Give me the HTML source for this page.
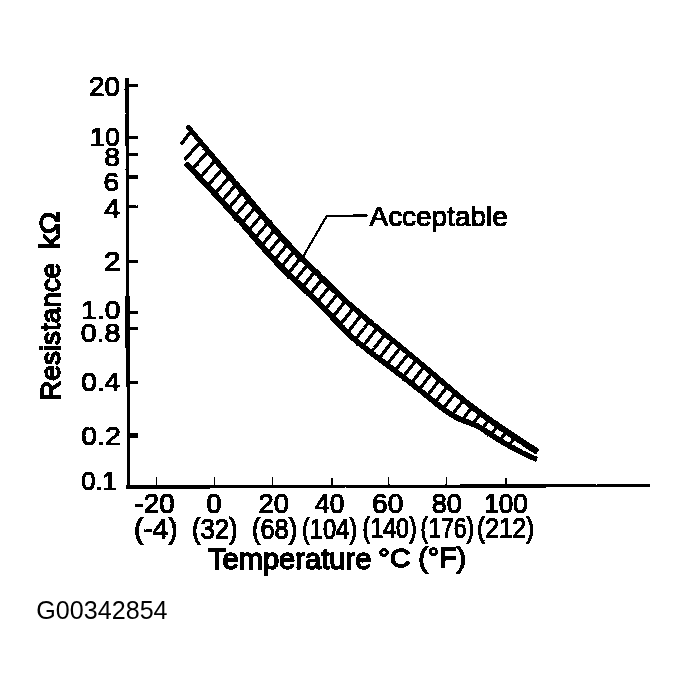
<!DOCTYPE html>
<html><head><meta charset="utf-8"><title>Resistance vs Temperature</title>
<style>
html,body{margin:0;padding:0;background:#fff;}
svg{display:block;}
text{font-family:"Liberation Sans",sans-serif;fill:#000;font-size:100px;}
text.b{stroke:#000;stroke-width:4.2px;}
text.bb{stroke:#000;stroke-width:5.2px;}
</style></head><body>
<svg width="688" height="695" viewBox="0 0 688 695">
<rect width="688" height="695" fill="#fff"/>
<defs><filter id="scan" x="0" y="0" width="688" height="695" filterUnits="userSpaceOnUse" color-interpolation-filters="sRGB">
<feTurbulence type="fractalNoise" baseFrequency="0.45" numOctaves="2" seed="7" result="n"/>
<feDisplacementMap in="SourceGraphic" in2="n" scale="1.6" xChannelSelector="R" yChannelSelector="G" result="d"/>
<feComponentTransfer in="d"><feFuncA type="discrete" tableValues="0 1"/></feComponentTransfer>
</filter></defs>
<g filter="url(#scan)">
<g stroke="#000" fill="none">
<path d="M126.9,78 L128.6,488.6" stroke-width="3.3"/>
<path d="M127.5,296 L127.7,348" stroke-width="4.9"/>
<path d="M126.1,487 L650.5,485.5" stroke-width="3.3"/>
<path d="M126.9,85.7 H138.4 M127.1,137.6 H138.4 M127.2,154.4 H138.4 M127.3,177 H138.4 M127.4,206.9 H138.4 M127.7,261.5 H138.4 M127.9,312.2 H138.4 M127.9,328.6 H138.4 M128.2,382.2 H138.4" stroke-width="2.8"/>
<path d="M128,435.6 H138.4" stroke-width="4.4"/>
<path d="M156.4,477.3 V486.9 M214.6,477.3 V486.7 M272.8,477.3 V486.6 M332,477.3 V486.4 M388.75,477.3 V486.2 M446.4,477.3 V486.1 M506,477.3 V485.9" stroke-width="1.3"/>
<path d="M189.0,124.2 L190.4,126.0 L192.4,128.3 L194.7,131.0 L197.3,134.1 L199.9,137.3 L202.6,140.5 L205.2,143.5 L207.5,146.3 L209.6,148.8 L211.7,151.2 L213.8,153.6 L215.8,156.0 L217.8,158.3 L219.7,160.5 L221.5,162.6 L223.3,164.7 L225.0,166.6 L226.6,168.4 L228.1,170.2 L229.5,171.8 L231.0,173.4 L232.4,175.1 L233.8,176.8 L235.3,178.5 L236.9,180.3 L238.4,182.1 L240.0,183.9 L241.5,185.8 L243.1,187.6 L244.7,189.5 L246.3,191.3 L247.8,193.2 L249.4,195.0 L250.8,196.8 L252.3,198.6 L253.8,200.3 L255.3,202.2 L256.9,204.0 L258.5,206.0 L260.3,208.2 L262.3,210.5 L264.3,212.9 L266.5,215.4 L268.7,218.0 L270.9,220.6 L273.2,223.3 L275.6,226.0 L277.9,228.6 L280.3,231.3 L282.9,234.2 L285.6,237.1 L288.3,240.0 L290.9,242.8 L293.4,245.5 L295.7,247.9 L297.6,249.9 L299.2,251.6 L300.5,253.0 L301.6,254.1 L302.6,255.0 L303.4,255.8 L304.2,256.6 L305.0,257.4 L305.9,258.2 L306.8,259.1 L307.4,259.7 L308.1,260.3 L308.7,260.9 L309.4,261.6 L310.2,262.4 L311.2,263.3 L312.4,264.5 L313.9,266.0 L315.6,267.7 L317.6,269.6 L319.6,271.6 L321.7,273.7 L323.7,275.7 L325.7,277.6 L327.5,279.4 L329.2,281.1 L330.9,282.7 L332.4,284.3 L334.0,285.8 L335.5,287.3 L337.0,288.7 L338.4,290.2 L340.0,291.6 L341.5,293.1 L343.0,294.5 L344.4,295.9 L345.9,297.2 L347.4,298.6 L348.9,300.0 L350.5,301.4 L352.1,302.9 L353.9,304.4 L355.6,306.0 L357.5,307.6 L359.4,309.2 L361.3,310.8 L363.2,312.5 L365.1,314.1 L367.0,315.7 L368.9,317.3 L370.9,318.9 L372.8,320.5 L374.8,322.1 L376.7,323.7 L378.7,325.3 L380.6,326.9 L382.5,328.5 L384.5,330.1 L386.5,331.8 L388.5,333.4 L390.5,335.1 L392.5,336.7 L394.3,338.2 L396.1,339.6 L397.7,341.0 L399.1,342.1 L400.3,343.1 L401.4,343.9 L402.3,344.7 L403.3,345.5 L404.4,346.4 L405.6,347.4 L407.0,348.6 L408.7,350.0 L410.5,351.5 L412.4,353.1 L414.4,354.8 L416.5,356.5 L418.5,358.2 L420.6,359.9 L422.5,361.5 L424.5,363.2 L426.5,364.9 L428.5,366.6 L430.5,368.3 L432.5,369.9 L434.4,371.5 L436.1,373.0 L437.7,374.3 L439.1,375.5 L440.3,376.6 L441.4,377.5 L442.4,378.3 L443.4,379.1 L444.4,380.0 L445.6,381.1 L447.1,382.3 L448.7,383.7 L450.6,385.3 L452.6,387.0 L454.6,388.8 L456.7,390.6 L458.8,392.3 L460.8,393.9 L462.6,395.4 L464.3,396.8 L465.9,398.1 L467.4,399.4 L468.9,400.6 L470.4,401.8 L471.8,402.9 L473.3,404.0 L474.8,405.2 L476.3,406.3 L477.8,407.5 L479.2,408.5 L480.7,409.6 L482.2,410.7 L483.7,411.8 L485.3,413.0 L487.0,414.2 L488.7,415.4 L490.6,416.7 L492.5,418.1 L494.4,419.4 L496.4,420.8 L498.4,422.1 L500.3,423.5 L502.3,424.8 L504.2,426.1 L506.1,427.4 L508.0,428.7 L509.9,430.0 L511.8,431.3 L513.7,432.6 L515.7,433.8 L517.6,435.1 L519.5,436.4 L521.6,437.7 L523.6,439.0 L525.7,440.4 L527.7,441.7 L529.6,442.9 L531.3,444.0 L532.8,444.9 L534.1,445.7 L535.2,446.4 L536.2,447.1 L537.1,447.6 L537.8,448.1 L538.4,448.5 L539.0,448.8 L539.5,449.1 L535.9,454.7 L535.5,454.4 L534.9,454.1 L534.3,453.7 L533.5,453.2 L532.7,452.6 L531.7,452.0 L530.5,451.2 L529.2,450.4 L527.7,449.4 L526.0,448.3 L524.2,447.1 L522.2,445.8 L520.1,444.4 L518.0,443.1 L516.0,441.7 L514.0,440.4 L512.1,439.1 L510.2,437.8 L508.3,436.5 L506.4,435.2 L504.5,433.9 L502.6,432.6 L500.6,431.3 L498.7,429.9 L496.8,428.6 L494.8,427.2 L492.9,425.8 L490.9,424.4 L488.9,423.0 L487.0,421.7 L485.2,420.4 L483.4,419.1 L481.8,417.8 L480.2,416.7 L478.6,415.5 L477.1,414.4 L475.6,413.3 L474.2,412.2 L472.7,411.0 L471.2,409.8 L469.7,408.6 L468.2,407.4 L466.8,406.2 L465.3,405.0 L463.8,403.8 L462.3,402.5 L460.7,401.2 L459.0,399.8 L457.2,398.2 L455.2,396.5 L453.2,394.7 L451.1,392.9 L449.0,391.1 L447.1,389.4 L445.2,387.8 L443.5,386.4 L442.1,385.2 L440.9,384.1 L439.9,383.2 L438.9,382.4 L437.9,381.6 L436.8,380.7 L435.7,379.7 L434.3,378.5 L432.6,377.1 L430.9,375.6 L429.0,374.0 L427.0,372.4 L425.0,370.7 L423.0,369.0 L421.0,367.3 L419.1,365.7 L417.1,364.0 L415.1,362.3 L413.0,360.6 L411.0,358.9 L408.9,357.2 L407.0,355.6 L405.2,354.1 L403.6,352.8 L402.2,351.6 L401.0,350.6 L399.9,349.7 L398.9,348.9 L397.9,348.1 L396.9,347.3 L395.7,346.3 L394.3,345.1 L392.7,343.8 L390.9,342.4 L389.0,340.8 L387.1,339.2 L385.1,337.6 L383.0,335.9 L381.0,334.3 L379.1,332.7 L377.2,331.1 L375.2,329.5 L373.3,327.9 L371.3,326.3 L369.4,324.7 L367.4,323.1 L365.5,321.4 L363.6,319.8 L361.6,318.2 L359.7,316.6 L357.8,315.0 L355.8,313.4 L353.9,311.7 L352.1,310.2 L350.2,308.6 L348.5,307.1 L346.8,305.6 L345.2,304.2 L343.6,302.8 L342.1,301.4 L340.6,300.0 L339.1,298.6 L337.6,297.2 L336.0,295.8 L334.5,294.3 L333.0,292.9 L331.4,291.4 L329.9,289.9 L328.4,288.4 L326.8,286.9 L325.2,285.3 L323.5,283.6 L321.6,281.8 L319.6,279.9 L317.6,277.9 L315.5,275.8 L313.4,273.8 L311.5,272.0 L309.7,270.3 L308.2,268.8 L307.0,267.6 L306.0,266.7 L305.2,266.0 L304.5,265.3 L303.9,264.7 L303.3,264.1 L302.5,263.4 L301.7,262.6 L300.8,261.7 L300.0,261.0 L299.2,260.2 L298.3,259.4 L297.3,258.4 L296.2,257.2 L294.8,255.8 L293.2,254.1 L291.2,252.1 L289.0,249.7 L286.5,247.0 L283.8,244.2 L281.1,241.2 L278.4,238.3 L275.8,235.4 L273.3,232.7 L271.0,230.0 L268.6,227.3 L266.3,224.6 L264.0,222.0 L261.8,219.3 L259.7,216.8 L257.6,214.4 L255.7,212.1 L253.9,210.0 L252.2,208.0 L250.6,206.1 L249.1,204.2 L247.6,202.5 L246.2,200.7 L244.7,198.9 L243.2,197.1 L241.6,195.3 L240.0,193.4 L238.5,191.6 L236.9,189.7 L235.3,187.9 L233.8,186.1 L232.2,184.3 L230.7,182.5 L229.2,180.7 L227.8,179.0 L226.4,177.4 L225.0,175.7 L223.5,174.0 L222.1,172.3 L220.5,170.4 L218.9,168.4 L217.2,166.3 L215.4,164.1 L213.5,161.9 L211.6,159.5 L209.6,157.1 L207.6,154.7 L205.6,152.1 L203.5,149.6 L201.2,146.8 L198.7,143.7 L196.1,140.5 L193.5,137.2 L191.0,134.1 L188.7,131.3 L186.8,128.9 L185.4,127.2Z" fill="#000" stroke="none"/>
<path d="M187.6,161.2 L188.8,162.4 L190.3,164.0 L192.1,165.8 L194.1,167.9 L196.3,170.1 L198.4,172.3 L200.5,174.5 L202.5,176.5 L204.3,178.4 L206.1,180.4 L208.0,182.3 L209.8,184.3 L211.6,186.2 L213.4,188.2 L215.3,190.2 L217.1,192.1 L219.0,194.2 L220.9,196.2 L222.8,198.2 L224.8,200.3 L226.7,202.3 L228.6,204.4 L230.6,206.5 L232.5,208.5 L234.4,210.7 L236.5,212.9 L238.5,215.1 L240.5,217.3 L242.5,219.5 L244.4,221.5 L246.1,223.5 L247.8,225.3 L249.2,227.0 L250.6,228.5 L251.8,229.9 L252.9,231.2 L253.9,232.4 L255.0,233.7 L256.1,234.9 L257.3,236.3 L258.5,237.7 L259.8,239.2 L261.1,240.6 L262.4,242.1 L263.6,243.6 L264.9,245.1 L266.2,246.5 L267.5,247.9 L268.7,249.3 L270.0,250.8 L271.2,252.2 L272.5,253.5 L273.8,254.9 L275.0,256.3 L276.3,257.6 L277.5,259.0 L278.8,260.3 L280.0,261.6 L281.3,262.9 L282.6,264.2 L283.9,265.5 L285.1,266.8 L286.4,268.0 L287.6,269.3 L288.8,270.4 L290.0,271.6 L291.2,272.7 L292.3,273.8 L293.5,274.9 L294.7,276.0 L295.9,277.1 L297.1,278.2 L298.3,279.4 L299.6,280.6 L300.8,281.8 L302.1,283.0 L303.4,284.2 L304.7,285.4 L306.0,286.6 L307.3,287.9 L308.6,289.1 L309.8,290.3 L311.1,291.5 L312.3,292.7 L313.6,294.0 L314.9,295.2 L316.1,296.4 L317.4,297.7 L318.7,298.9 L320.0,300.2 L321.3,301.5 L322.6,302.8 L323.9,304.1 L325.1,305.4 L326.4,306.7 L327.6,307.9 L328.9,309.2 L330.1,310.4 L331.2,311.6 L332.4,312.9 L333.6,314.1 L334.7,315.3 L335.9,316.6 L337.1,317.8 L338.4,319.1 L339.6,320.5 L340.9,321.8 L342.2,323.2 L343.5,324.5 L344.7,325.9 L346.0,327.2 L347.2,328.4 L348.5,329.7 L349.7,330.9 L351.0,332.1 L352.2,333.3 L353.5,334.5 L354.7,335.7 L355.9,336.8 L357.2,337.9 L358.4,339.0 L359.7,340.1 L360.9,341.1 L362.2,342.2 L363.5,343.2 L364.7,344.2 L366.0,345.2 L367.2,346.2 L368.4,347.1 L369.6,348.1 L370.8,348.9 L371.9,349.8 L373.1,350.7 L374.3,351.6 L375.5,352.5 L376.7,353.4 L377.9,354.4 L379.2,355.4 L380.5,356.3 L381.8,357.3 L383.0,358.3 L384.3,359.3 L385.6,360.2 L386.9,361.2 L388.2,362.2 L389.4,363.1 L390.7,364.0 L391.9,365.0 L393.2,365.9 L394.5,366.9 L395.7,367.8 L397.0,368.8 L398.3,369.8 L399.6,370.8 L400.8,371.7 L402.1,372.7 L403.4,373.7 L404.7,374.7 L406.0,375.7 L407.2,376.7 L408.5,377.7 L409.7,378.7 L411.0,379.6 L412.3,380.6 L413.5,381.6 L414.7,382.6 L415.9,383.6 L417.1,384.5 L418.3,385.4 L419.4,386.3 L420.5,387.2 L421.6,388.1 L422.7,389.0 L423.9,389.9 L425.0,390.8 L426.3,391.8 L427.5,392.8 L428.9,393.9 L430.2,395.0 L431.6,396.1 L433.0,397.2 L434.4,398.3 L435.7,399.4 L437.0,400.5 L438.4,401.5 L439.6,402.6 L440.9,403.6 L442.2,404.6 L443.4,405.6 L444.7,406.5 L445.9,407.5 L447.1,408.3 L448.4,409.2 L449.6,410.1 L450.9,410.9 L452.1,411.7 L453.3,412.5 L454.6,413.3 L455.8,414.0 L457.0,414.6 L458.2,415.3 L459.5,415.8 L460.8,416.4 L462.1,417.0 L463.3,417.5 L464.6,418.0 L465.8,418.5 L466.9,418.9 L467.9,419.3 L468.8,419.6 L469.7,419.9 L470.5,420.2 L471.4,420.5 L472.3,420.8 L473.2,421.2 L474.1,421.5 L475.0,421.9 L475.9,422.3 L476.8,422.7 L477.6,423.2 L478.6,423.6 L479.5,424.1 L480.5,424.7 L481.6,425.3 L482.8,426.0 L484.0,426.8 L485.3,427.6 L486.6,428.5 L487.9,429.4 L489.2,430.3 L490.5,431.1 L491.8,432.0 L493.1,432.8 L494.3,433.6 L495.6,434.4 L496.9,435.3 L498.1,436.1 L499.4,436.9 L500.7,437.7 L501.9,438.5 L503.2,439.2 L504.4,440.0 L505.7,440.7 L507.0,441.5 L508.2,442.2 L509.5,442.9 L510.7,443.7 L512.0,444.4 L513.3,445.1 L514.5,445.8 L515.8,446.5 L517.1,447.1 L518.3,447.8 L519.6,448.5 L520.8,449.1 L522.1,449.8 L523.4,450.4 L524.7,451.0 L526.0,451.7 L527.3,452.3 L528.6,452.9 L529.8,453.5 L531.0,454.0 L532.1,454.5 L533.0,454.9 L534.0,455.3 L534.8,455.7 L535.7,456.0 L536.4,456.3 L537.1,456.6 L537.6,456.8 L538.1,457.0 L536.1,461.8 L535.7,461.6 L535.1,461.4 L534.5,461.1 L533.7,460.8 L532.9,460.5 L531.9,460.1 L531.0,459.7 L529.9,459.3 L528.8,458.8 L527.7,458.2 L526.4,457.7 L525.1,457.1 L523.7,456.4 L522.4,455.8 L521.0,455.2 L519.7,454.5 L518.4,453.9 L517.1,453.2 L515.8,452.5 L514.6,451.9 L513.3,451.2 L512.0,450.5 L510.7,449.8 L509.4,449.1 L508.1,448.4 L506.8,447.6 L505.5,446.9 L504.2,446.2 L503.0,445.4 L501.7,444.7 L500.4,443.9 L499.1,443.1 L497.8,442.3 L496.5,441.5 L495.2,440.7 L493.9,439.9 L492.6,439.1 L491.3,438.2 L490.1,437.4 L488.8,436.6 L487.5,435.8 L486.2,434.9 L484.8,434.0 L483.5,433.1 L482.2,432.3 L481.0,431.5 L479.9,430.8 L478.8,430.1 L477.8,429.6 L476.9,429.1 L476.0,428.6 L475.2,428.2 L474.4,427.8 L473.6,427.4 L472.7,427.1 L471.9,426.7 L471.1,426.4 L470.3,426.1 L469.6,425.8 L468.7,425.5 L467.9,425.2 L467.0,424.9 L465.9,424.5 L464.9,424.1 L463.7,423.7 L462.5,423.2 L461.3,422.7 L459.9,422.1 L458.5,421.6 L457.2,420.9 L455.8,420.3 L454.4,419.6 L453.0,418.8 L451.7,418.1 L450.4,417.3 L449.1,416.4 L447.8,415.6 L446.5,414.7 L445.2,413.8 L443.9,412.9 L442.6,412.0 L441.3,411.0 L440.0,410.0 L438.7,409.0 L437.4,408.0 L436.1,406.9 L434.9,405.9 L433.6,404.9 L432.2,403.8 L430.8,402.7 L429.5,401.6 L428.1,400.4 L426.7,399.3 L425.3,398.2 L424.0,397.2 L422.7,396.1 L421.5,395.2 L420.4,394.2 L419.3,393.3 L418.1,392.5 L417.1,391.6 L416.0,390.7 L414.8,389.8 L413.7,388.9 L412.5,388.0 L411.2,387.0 L410.0,386.0 L408.8,385.0 L407.5,384.0 L406.3,383.1 L405.0,382.1 L403.8,381.1 L402.5,380.1 L401.3,379.1 L400.0,378.1 L398.7,377.2 L397.4,376.2 L396.1,375.2 L394.9,374.2 L393.6,373.3 L392.3,372.3 L391.1,371.4 L389.8,370.4 L388.6,369.5 L387.3,368.5 L386.1,367.6 L384.8,366.6 L383.5,365.7 L382.2,364.7 L380.9,363.7 L379.7,362.7 L378.4,361.8 L377.1,360.8 L375.8,359.8 L374.5,358.8 L373.3,357.9 L372.1,357.0 L370.9,356.1 L369.7,355.2 L368.6,354.3 L367.4,353.4 L366.2,352.5 L365.0,351.5 L363.8,350.6 L362.5,349.6 L361.3,348.6 L360.0,347.6 L358.7,346.5 L357.4,345.5 L356.1,344.4 L354.7,343.3 L353.4,342.2 L352.1,341.0 L350.8,339.9 L349.6,338.7 L348.3,337.5 L347.0,336.3 L345.7,335.1 L344.4,333.8 L343.2,332.6 L341.9,331.3 L340.5,329.9 L339.2,328.6 L337.9,327.2 L336.6,325.9 L335.4,324.5 L334.1,323.2 L332.9,321.9 L331.6,320.7 L330.4,319.4 L329.3,318.2 L328.1,317.0 L326.9,315.8 L325.8,314.6 L324.6,313.4 L323.4,312.1 L322.1,310.9 L320.9,309.6 L319.6,308.3 L318.3,307.0 L317.0,305.8 L315.7,304.5 L314.5,303.2 L313.2,302.0 L311.9,300.7 L310.7,299.5 L309.4,298.3 L308.2,297.1 L306.9,295.9 L305.6,294.6 L304.4,293.4 L303.1,292.2 L301.8,291.0 L300.6,289.8 L299.3,288.6 L298.0,287.4 L296.7,286.2 L295.4,285.0 L294.2,283.8 L292.9,282.6 L291.7,281.5 L290.5,280.4 L289.3,279.3 L288.2,278.2 L287.0,277.1 L285.8,275.9 L284.6,274.8 L283.4,273.6 L282.1,272.3 L280.9,271.1 L279.6,269.8 L278.3,268.5 L277.0,267.2 L275.7,265.8 L274.4,264.5 L273.1,263.1 L271.8,261.8 L270.5,260.4 L269.3,259.0 L268.0,257.6 L266.7,256.2 L265.5,254.8 L264.2,253.4 L262.9,252.0 L261.6,250.5 L260.4,249.1 L259.1,247.6 L257.8,246.1 L256.5,244.6 L255.2,243.2 L253.9,241.7 L252.7,240.3 L251.5,238.9 L250.4,237.6 L249.3,236.4 L248.3,235.1 L247.1,233.9 L246.0,232.5 L244.7,231.0 L243.2,229.4 L241.6,227.6 L239.9,225.6 L238.0,223.5 L236.0,221.3 L234.0,219.1 L232.0,216.9 L230.0,214.7 L228.1,212.6 L226.2,210.5 L224.3,208.4 L222.4,206.3 L220.5,204.3 L218.5,202.2 L216.6,200.2 L214.7,198.1 L212.9,196.1 L211.0,194.1 L209.2,192.1 L207.4,190.2 L205.6,188.2 L203.7,186.3 L201.9,184.3 L200.1,182.4 L198.3,180.5 L196.4,178.4 L194.3,176.3 L192.2,174.0 L190.1,171.8 L188.1,169.8 L186.2,167.9 L184.7,166.3 L183.6,165.2Z" fill="#000" stroke="none"/>
<path d="M190.8,131.5 L181.0,144.6 M200.5,141.8 L184.5,159.8 M208.2,151.1 L191.6,169.8 M215.6,160.0 L199.7,178.0 M222.8,168.5 L207.3,186.2 M229.7,176.6 L214.6,194.0 M236.3,184.3 L221.5,201.3 M242.7,191.8 L228.3,208.5 M249.1,199.5 L234.8,216.2 M255.5,207.2 L241.6,223.6 M262.0,214.7 L248.4,230.8 M268.4,222.3 L254.9,238.4 M274.9,229.8 L261.4,245.9 M281.3,236.8 L268.0,253.0 M287.8,243.9 L274.2,260.5 M294.3,250.9 L281.1,267.2 M301.0,257.6 L287.8,273.9 M307.9,264.4 L294.7,280.7 M315.2,271.4 L302.3,287.4 M322.6,278.6 L309.7,294.6 M330.1,286.0 L317.3,302.0 M337.8,293.5 L324.7,310.0 M345.7,300.7 L332.3,317.6 M353.7,307.9 L340.0,325.1 M361.6,314.6 L347.4,332.7 M369.5,321.3 L354.7,340.1 M377.4,327.8 L362.9,346.3 M385.2,334.2 L370.7,352.7 M393.0,340.6 L378.8,358.7 M400.8,347.0 L386.6,365.1 M408.6,353.4 L394.7,371.2 M416.4,359.9 L402.8,377.3 M424.2,366.5 L411.0,383.4 M432.0,373.0 L418.8,390.0 M439.8,379.6 L426.9,396.2 M447.6,386.3 L435.0,402.5 M455.4,393.0 L442.8,409.1 M463.6,399.9 L451.9,414.9 M472.2,406.9 L462.1,419.9 M480.8,413.4 L472.5,424.0 M489.4,419.6 L482.0,429.0 M498.0,425.6 L490.9,434.7 M506.6,431.5 L499.5,440.6 M515.2,437.4 L508.8,445.6" stroke-width="3.3"/>
<path d="M302.6,257.5 L326.5,216.4 L367.2,215.3" stroke-width="2.2"/>
<path d="M353,215.5 L367.4,215.2" stroke-width="3.2"/>
</g>
<text transform="matrix(0.2783 0 0 0.2693 88.97 96.09)" class="b">20</text>
<text transform="matrix(0.2680 0 0 0.2667 90.09 146.00)" class="b">10</text>
<text transform="matrix(0.2843 0 0 0.2667 104.23 166.20)" class="b">8</text>
<text transform="matrix(0.2800 0 0 0.2667 103.46 190.70)" class="b">6</text>
<text transform="matrix(0.2836 0 0 0.2778 104.30 218.02)" class="b">4</text>
<text transform="matrix(0.2980 0 0 0.2703 104.11 270.56)" class="b">2</text>
<text transform="matrix(0.2817 0 0 0.2667 81.31 319.20)" class="b">1.0</text>
<text transform="matrix(0.2859 0 0 0.2667 80.73 342.40)" class="b">0.8</text>
<text transform="matrix(0.2801 0 0 0.2667 81.24 391.40)" class="b">0.4</text>
<text transform="matrix(0.2843 0 0 0.2667 81.23 444.70)" class="b">0.2</text>
<text transform="matrix(0.2552 0 0 0.2667 81.29 489.70)" class="b">0.1</text>
<text transform="matrix(0.2780 0 0 0.2720 134.54 512.88)" class="b">-20</text>
<text transform="matrix(0.2692 0 0 0.2739 206.46 512.81)" class="b">0</text>
<text transform="matrix(0.2736 0 0 0.2753 258.48 512.75)" class="b">20</text>
<text transform="matrix(0.2633 0 0 0.2768 315.00 512.69)" class="b">40</text>
<text transform="matrix(0.2811 0 0 0.2783 372.06 512.63)" class="b">60</text>
<text transform="matrix(0.2710 0 0 0.2799 431.66 512.56)" class="b">80</text>
<text transform="matrix(0.2597 0 0 0.2814 484.34 512.51)" class="b">100</text>
<text transform="matrix(0.2816 0 0 0.2867 133.97 539.10)" class="b">(-4)</text>
<text transform="matrix(0.2565 0 0 0.2882 191.97 538.90)" class="b">(32)</text>
<text transform="matrix(0.2535 0 0 0.2897 251.99 538.68)" class="b">(68)</text>
<text transform="matrix(0.2364 0 0 0.2910 301.95 538.50)" class="b">(104)</text>
<text transform="matrix(0.2329 0 0 0.2926 362.47 538.29)" class="b">(140)</text>
<text transform="matrix(0.2293 0 0 0.2940 420.58 538.08)" class="b">(176)</text>
<text transform="matrix(0.2449 0 0 0.2955 477.12 537.87)" class="b">(212)</text>
<text transform="matrix(0.2792 0 0 0.2724 369.54 225.93)" class="b">Acceptable</text>
<text transform="matrix(0.2913 0 0 0.2894 207.90 568.94)" class="bb">Temperature</text>
<text transform="matrix(0.2881 0 0 0.2667 378.14 567.20)" class="bb">°C</text>
<text transform="matrix(0.2863 0 0 0.2847 418.25 567.15)" class="bb">(°F)</text>
<text transform="matrix(0 -0.2786 0.2795 0 60.16 400.67)" class="bb">Resistance</text>
<text transform="matrix(0 -0.3025 0.2808 0 58.96 249.41)" class="bb">kΩ</text>
</g>
<text transform="matrix(0.2511 0 0 0.2577 36.34 618.54)" class="t">G00342854</text>
</svg>
</body></html>
